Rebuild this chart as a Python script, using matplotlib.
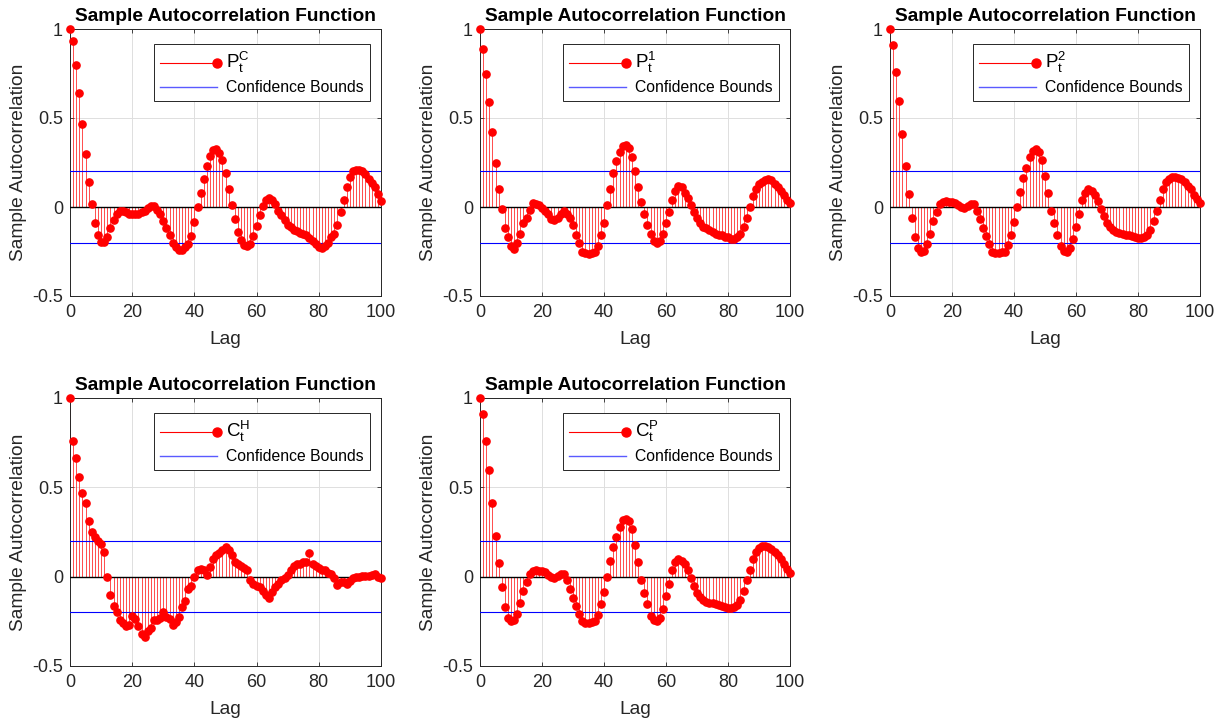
import numpy as np
import matplotlib
matplotlib.use('Agg')
import matplotlib.pyplot as plt
from matplotlib.lines import Line2D
from matplotlib.legend_handler import HandlerBase

plt.rcParams['font.family'] = ['Liberation Sans', 'DejaVu Sans']

lags = np.arange(0, 101)

# sample autocorrelation values, lag 0..100
p_c = [1.00, 0.93, 0.80, 0.64, 0.466, 0.296, 0.143, 0.015, -0.09, -0.16,
       -0.195, -0.195, -0.17, -0.12, -0.075, -0.04, -0.02, -0.02, -0.03, -0.04,
       -0.04, -0.04, -0.04, -0.03, -0.02, -0.005, 0.005, 0.005, -0.015, -0.04,
       -0.08, -0.12, -0.16, -0.20, -0.225, -0.24, -0.24, -0.225, -0.21, -0.165,
       -0.085, 0.00, 0.08, 0.16, 0.23, 0.285, 0.32, 0.325, 0.305, 0.265,
       0.19, 0.10, 0.01, -0.07, -0.14, -0.185, -0.215, -0.22, -0.21, -0.165,
       -0.105, -0.045, 0.005, 0.04, 0.05, 0.04, 0.015, -0.02, -0.045, -0.075,
       -0.10, -0.115, -0.13, -0.135, -0.145, -0.15, -0.16, -0.175, -0.19, -0.21,
       -0.225, -0.23, -0.22, -0.205, -0.17, -0.15, -0.10, -0.03, 0.04, 0.11,
       0.17, 0.20, 0.21, 0.21, 0.20, 0.185, 0.16, 0.135, 0.11, 0.075,
       0.035]

p_1 = [1.00, 0.885, 0.75, 0.59, 0.42, 0.25, 0.10, -0.01, -0.12, -0.17,
       -0.22, -0.235, -0.20, -0.15, -0.09, -0.06, -0.015, 0.02, 0.015, 0.01,
       -0.005, -0.02, -0.04, -0.065, -0.075, -0.06, -0.04, -0.02, -0.04, -0.06,
       -0.10, -0.155, -0.20, -0.25, -0.26, -0.265, -0.26, -0.255, -0.22, -0.16,
       -0.09, 0.01, 0.10, 0.19, 0.26, 0.31, 0.345, 0.35, 0.33, 0.28,
       0.20, 0.11, 0.03, -0.04, -0.10, -0.15, -0.19, -0.20, -0.19, -0.15,
       -0.09, -0.03, 0.04, 0.09, 0.12, 0.11, 0.08, 0.05, 0.01, -0.03,
       -0.06, -0.09, -0.11, -0.12, -0.13, -0.14, -0.15, -0.16, -0.16, -0.17,
       -0.17, -0.18, -0.18, -0.17, -0.15, -0.11, -0.06, 0.00, 0.06, 0.10,
       0.13, 0.14, 0.15, 0.155, 0.15, 0.13, 0.11, 0.09, 0.07, 0.04,
       0.02]

p_2 = [1.00, 0.91, 0.76, 0.595, 0.41, 0.23, 0.075, -0.06, -0.17, -0.23,
       -0.25, -0.245, -0.21, -0.15, -0.08, -0.03, 0.015, 0.03, 0.035, 0.03,
       0.03, 0.025, 0.01, 0.00, -0.005, 0.005, 0.015, 0.015, -0.02, -0.07,
       -0.12, -0.165, -0.21, -0.25, -0.26, -0.26, -0.255, -0.25, -0.215, -0.155,
       -0.085, 0.00, 0.085, 0.165, 0.22, 0.28, 0.315, 0.325, 0.31, 0.265,
       0.175, 0.08, -0.02, -0.09, -0.155, -0.22, -0.245, -0.25, -0.23, -0.18,
       -0.11, -0.04, 0.04, 0.08, 0.10, 0.09, 0.07, 0.035, -0.01, -0.05,
       -0.09, -0.115, -0.13, -0.14, -0.145, -0.15, -0.155, -0.16, -0.165, -0.17,
       -0.175, -0.175, -0.17, -0.16, -0.13, -0.08, -0.02, 0.04, 0.10, 0.14,
       0.16, 0.17, 0.17, 0.165, 0.155, 0.14, 0.12, 0.10, 0.07, 0.045,
       0.02]

c_h = [1.00, 0.76, 0.665, 0.56, 0.47, 0.41, 0.31, 0.25, 0.22, 0.20,
       0.185, 0.14, 0.00, -0.10, -0.165, -0.20, -0.245, -0.26, -0.275, -0.27,
       -0.22, -0.235, -0.275, -0.32, -0.34, -0.305, -0.29, -0.245, -0.245, -0.23,
       -0.20, -0.225, -0.235, -0.27, -0.255, -0.225, -0.17, -0.135, -0.07, -0.055,
       0.00, 0.035, 0.045, 0.035, 0.01, 0.055, 0.10, 0.12, 0.13, 0.15,
       0.165, 0.15, 0.12, 0.08, 0.07, 0.06, 0.05, 0.04, -0.02, -0.04,
       -0.05, -0.06, -0.08, -0.10, -0.12, -0.085, -0.06, -0.04, -0.02, -0.01,
       0.01, 0.04, 0.06, 0.07, 0.07, 0.08, 0.08, 0.13, 0.07, 0.06,
       0.05, 0.04, 0.04, 0.02, 0.015, -0.01, -0.045, -0.03, -0.03, -0.04,
       -0.025, -0.01, 0.00, 0.00, 0.005, 0.005, 0.005, 0.01, 0.015, 0.00,
       -0.005]

# C^P looks identical to P^2 in the picture
c_p = [1.00, 0.91, 0.76, 0.595, 0.41, 0.23, 0.075, -0.06, -0.17, -0.23,
       -0.25, -0.245, -0.21, -0.15, -0.08, -0.03, 0.015, 0.03, 0.035, 0.03,
       0.03, 0.025, 0.01, 0.00, -0.005, 0.005, 0.015, 0.015, -0.02, -0.07,
       -0.12, -0.165, -0.21, -0.25, -0.26, -0.26, -0.255, -0.25, -0.215, -0.155,
       -0.085, 0.00, 0.085, 0.165, 0.22, 0.28, 0.315, 0.325, 0.31, 0.265,
       0.175, 0.08, -0.02, -0.09, -0.155, -0.22, -0.245, -0.25, -0.23, -0.18,
       -0.11, -0.04, 0.04, 0.08, 0.10, 0.09, 0.07, 0.035, -0.01, -0.05,
       -0.09, -0.115, -0.13, -0.14, -0.145, -0.15, -0.155, -0.16, -0.165, -0.17,
       -0.175, -0.175, -0.17, -0.16, -0.13, -0.08, -0.02, 0.04, 0.10, 0.14,
       0.16, 0.17, 0.17, 0.165, 0.155, 0.14, 0.12, 0.10, 0.07, 0.045,
       0.02]

series = [p_c, p_1, p_2, c_h, c_p]
labels = [r'$\mathregular{P_t^C}$', r'$\mathregular{P_t^1}$', r'$\mathregular{P_t^2}$',
          r'$\mathregular{C_t^H}$', r'$\mathregular{C_t^P}$']
conf_bound = 0.2

x_ticks = [0, 20, 40, 60, 80, 100]
y_ticks = [-0.5, 0, 0.5, 1]
y_ticklabels = ['-0.5', '0', '0.5', '1']

# axes boxes in pixels (left, top, right, bottom)
W, H = 1225, 723
boxes = [(70, 29, 381, 296), (480, 29, 790, 296), (890, 29, 1200, 296),
         (70, 398, 381, 666), (480, 398, 790, 666)]


class StemHandler(HandlerBase):
    # matlab style stem legend: line with one marker on its right end
    def create_artists(self, legend, orig_handle, xdescent, ydescent,
                       width, height, fontsize, trans):
        y = (height - ydescent) / 2
        line = Line2D([-xdescent, width - xdescent], [y, y], color='red', linewidth=0.8)
        dot = Line2D([width - xdescent], [y], linestyle='none', marker='o',
                     color='red', markersize=6.5)
        line.set_transform(trans)
        dot.set_transform(trans)
        return [line, dot]


fig = plt.figure(figsize=(W / 100, H / 100), dpi=100)
fig.patch.set_facecolor('white')

for vals, lab, (l, t, r, b) in zip(series, labels, boxes):
    ax = fig.add_axes([l / W, 1 - b / H, (r - l) / W, (b - t) / H])
    ax.vlines(lags, 0, vals, color='red', linewidth=0.65, alpha=0.75, zorder=2)
    ax.plot(lags, vals, linestyle='none', marker='o', color='red', markersize=5.2,
            clip_on=False, zorder=4)
    ax.axhline(0, color='black', linewidth=1.0, zorder=3)
    ax.axhline(conf_bound, color='blue', linewidth=0.8, zorder=3)
    ax.axhline(-conf_bound, color='blue', linewidth=0.8, zorder=3)

    ax.set_xlim(0, 100)
    ax.set_ylim(-0.5, 1)
    ax.set_xticks(x_ticks)
    ax.set_yticks(y_ticks)
    ax.set_yticklabels(y_ticklabels)
    ax.tick_params(direction='in', top=True, right=True, labelsize=13,
                   length=3, width=0.6, colors='#262626', labelcolor='#262626')
    ax.tick_params(axis='x', pad=6)
    ax.tick_params(axis='y', pad=5)
    for sp in ax.spines.values():
        sp.set_color('#262626')
        sp.set_linewidth(0.7)
    ax.grid(True, color='#dedede', linewidth=0.7)
    ax.set_axisbelow(True)

    ax.set_title('Sample Autocorrelation Function', fontsize=13.8, fontweight='bold', pad=6)
    ax.set_xlabel('Lag', fontsize=13.8, color='#262626', labelpad=7)
    ax.set_ylabel('Sample Autocorrelation', fontsize=13.8, color='#262626', labelpad=4)

    stem_handle = Line2D([], [], color='red', marker='o')
    bound_handle = Line2D([], [], color='#5a5aff', linewidth=1.0)
    leg = ax.legend([stem_handle, bound_handle], [lab, 'Confidence Bounds'],
                    handler_map={stem_handle: StemHandler()},
                    loc='upper right', bbox_to_anchor=(1 - 11 / (r - l), 1 - 15 / (b - t)),
                    borderaxespad=0, fontsize=11.3, handlelength=3.6,
                    handletextpad=0.6, labelspacing=0.3, borderpad=0.4,
                    fancybox=False, framealpha=1, edgecolor='#262626')
    leg.get_texts()[0].set_fontsize(13.5)
    leg.get_frame().set_linewidth(0.7)

fig.savefig('out.png', dpi=100, facecolor='white')
